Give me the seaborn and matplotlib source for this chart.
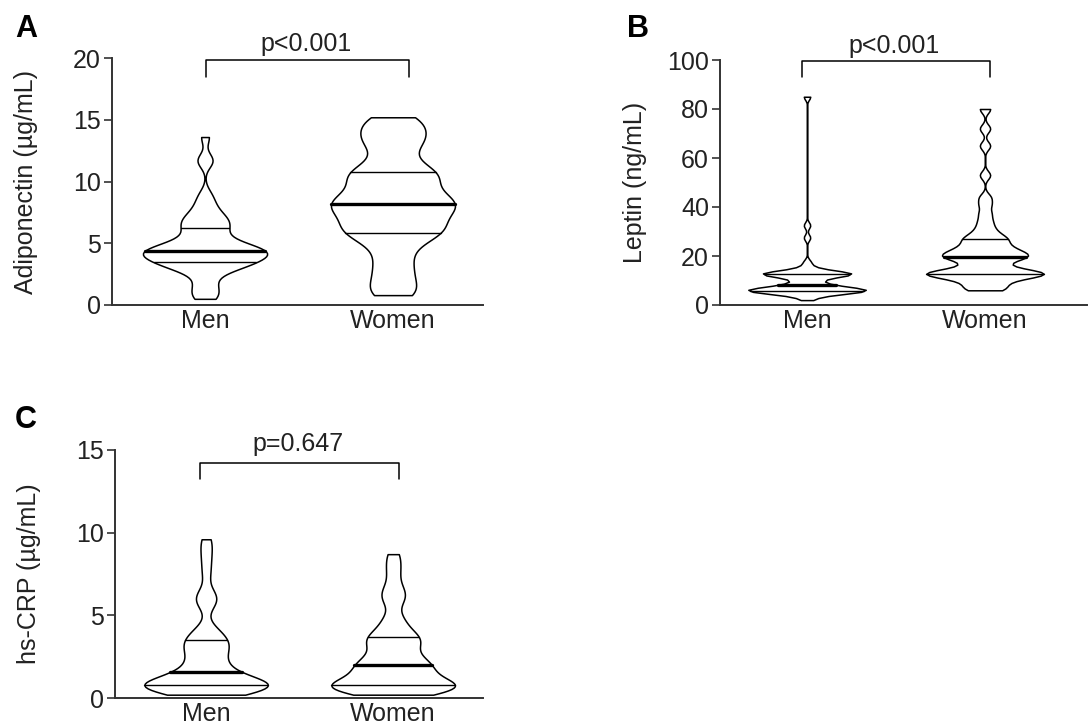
import pandas as pd
import matplotlib.pyplot as plt
import seaborn as sns

# estilo limpo, fonte parecida com Arial
sns.set_theme(style="ticks")
plt.rcParams["font.family"] = ["Liberation Sans", "DejaVu Sans"]

grupos = ["Men", "Women"]

# valores estimados a partir da figura (observacoes individuais)
adipo_men = [0.5, 0.7, 1.1, 1.5, 1.9, 2.5, 2.8, 3.0, 3.1, 3.2, 3.3, 3.35,
             3.5, 3.6, 3.7, 3.8, 3.9, 4.0, 4.05, 4.1, 4.2, 4.25, 4.3, 4.4,
             4.4, 4.5, 4.6, 4.7, 4.8, 4.9, 5.0, 5.2, 5.4, 5.7, 6.0, 6.2,
             6.4, 6.6, 6.8, 7.0, 7.2, 7.5, 7.9, 8.4, 9.0, 11.6, 11.8, 13.6]
adipo_women = [0.8, 0.9, 1.4, 1.9, 2.5, 3.0, 3.6, 4.2, 4.8, 5.3, 5.6, 5.75,
               5.9, 6.1, 6.3, 6.5, 6.8, 7.0, 7.2, 7.5, 7.7, 7.9, 8.0, 8.2,
               8.2, 8.4, 8.6, 8.8, 9.0, 9.3, 9.6, 9.9, 10.2, 10.5, 10.6, 10.7,
               10.9, 11.3, 11.8, 12.5, 13.0, 13.3, 13.6, 13.9, 14.3, 14.7, 15.0, 15.2]

leptin_men = [2.0, 3.5, 4.3, 4.8, 5.1, 5.3, 5.4, 5.5, 5.6, 5.6, 5.7, 5.7,
              5.9, 6.1, 6.2, 6.3, 6.4, 6.5, 6.6, 6.7, 6.9, 7.2, 7.6, 8.1,
              8.4, 9.0, 9.8, 10.6, 11.4, 12.0, 12.3, 12.4, 12.5, 12.6, 12.6, 12.7,
              12.8, 12.9, 13.0, 13.1, 13.3, 13.6, 14.2, 15.5, 17.5, 27.5, 32.5, 85.0]
leptin_women = [6.0, 6.3, 7.2, 8.3, 9.3, 10.3, 11.0, 11.6, 12.0, 12.3, 12.5, 12.7,
                12.8, 13.0, 13.2, 13.5, 13.9, 14.4, 15.2, 16.3, 17.5, 18.5, 19.1, 19.5,
                19.6, 20.0, 20.5, 21.0, 21.5, 22.0, 22.6, 23.3, 24.0, 25.0, 26.0, 26.8,
                27.5, 28.5, 30.0, 32.0, 34.5, 37.5, 41.0, 44.0, 53.0, 65.0, 72.0, 80.0]

crp_men = [0.2, 0.25, 0.35, 0.45, 0.5, 0.55, 0.6, 0.62, 0.65, 0.7, 0.72, 0.75,
           0.78, 0.8, 0.82, 0.85, 0.88, 0.9, 0.95, 1.0, 1.1, 1.2, 1.35, 1.55,
           1.6, 1.75, 1.9, 2.1, 2.3, 2.5, 2.7, 2.9, 3.0, 3.2, 3.35, 3.45,
           3.6, 3.8, 4.0, 4.3, 5.6, 5.9, 6.1, 6.4, 7.5, 8.3, 9.0, 9.6]
crp_women = [0.2, 0.25, 0.35, 0.45, 0.5, 0.55, 0.6, 0.63, 0.66, 0.7, 0.72, 0.75,
             0.78, 0.85, 0.95, 1.05, 1.15, 1.25, 1.4, 1.5, 1.6, 1.75, 1.85, 1.95,
             2.0, 2.1, 2.2, 2.35, 2.5, 2.7, 2.9, 3.1, 3.3, 3.45, 3.55, 3.65,
             3.8, 4.0, 4.3, 4.6, 5.0, 5.8, 6.1, 6.4, 6.8, 7.5, 8.1, 8.7]

rotulos_y = ["Adiponectin (\u00b5g/mL)", "Leptin (ng/mL)", "hs-CRP (\u00b5g/mL)"]
letras = ["A", "B", "C"]
p_valores = ["p<0.001", "p<0.001", "p=0.647"]
limites_y = [20, 100, 15]
passo_y = [5, 20, 5]

W, H = 1089, 727
fig = plt.figure(figsize=(W / 100, H / 100), dpi=100)

# cada painel: dados, posicao em pixels (esq, dir, topo, base), xlim, bw, colchete
paineis = [
    dict(m=adipo_men, w=adipo_women, box=(112, 483, 58, 305), xlim=(-0.495, 1.479),
         bw=0.45, br=(0.005, 1.085, 19.84, 18.5), txt=(0.54, 20.6), letra_xy=(15, 37)),
    dict(m=leptin_men, w=leptin_women, box=(720, 1087, 60, 305), xlim=(-0.489, 1.573),
         bw=0.22, br=(-0.03, 1.03, 99.6, 93.1), txt=(0.49, 102.9), letra_xy=(627, 37)),
    dict(m=crp_men, w=crp_women, box=(115, 483, 450, 698), xlim=(-0.487, 1.48),
         bw=0.45, br=(-0.03, 1.03, 14.2, 13.25), txt=(0.49, 14.94), letra_xy=(15, 428)),
]

for i, p in enumerate(paineis):
    esq, dir_, topo, base = p["box"]
    ax = fig.add_axes([esq / W, 1 - base / H, (dir_ - esq) / W, (base - topo) / H])

    df = pd.DataFrame({
        "grupo": ["Men"] * len(p["m"]) + ["Women"] * len(p["w"]),
        "valor": p["m"] + p["w"],
    })
    sns.violinplot(data=df, x="grupo", y="valor", order=grupos, ax=ax,
                   cut=0, inner="quart", density_norm="width", width=0.66,
                   bw_adjust=p["bw"], color="white", linecolor="black",
                   linewidth=1.1, saturation=1)

    # quartis com linha continua, mediana mais grossa
    for j, ln in enumerate(ax.lines):
        ln.set_linestyle("-")
        ln.set_color("black")
        ln.set_linewidth(2.4 if j % 3 == 1 else 1.0)

    ax.set_xlim(*p["xlim"])
    ax.set_ylim(0, limites_y[i])
    ax.set_yticks(range(0, limites_y[i] + 1, passo_y[i]))
    ax.set_xlabel("")
    ax.set_ylabel(rotulos_y[i], fontsize=18, color="#222222")
    ax.yaxis.set_label_coords(-0.2, 0.5)
    sns.despine(ax=ax)
    for s in ["left", "bottom"]:
        ax.spines[s].set_linewidth(1.4)
        ax.spines[s].set_color("#333333")
    ax.tick_params(axis="y", length=6, width=1.2, pad=2, labelsize=18,
                   color="#333333", labelcolor="#222222")
    ax.tick_params(axis="x", length=0, pad=3, labelsize=18, labelcolor="#222222")

    # colchete com p-valor
    x0, x1, ytop, yleg = p["br"]
    ax.plot([x0, x0, x1, x1], [yleg, ytop, ytop, yleg], color="black",
            lw=1.1, clip_on=False)
    ax.text(p["txt"][0], p["txt"][1], p_valores[i], ha="center", va="baseline",
            fontsize=18, color="#222222", clip_on=False)

    lx, ly = p["letra_xy"]
    fig.text(lx / W, 1 - ly / H, letras[i], fontsize=22, fontweight="bold",
             ha="left", va="baseline", color="black")

plt.savefig("out.png", dpi=100)
plt.close()
